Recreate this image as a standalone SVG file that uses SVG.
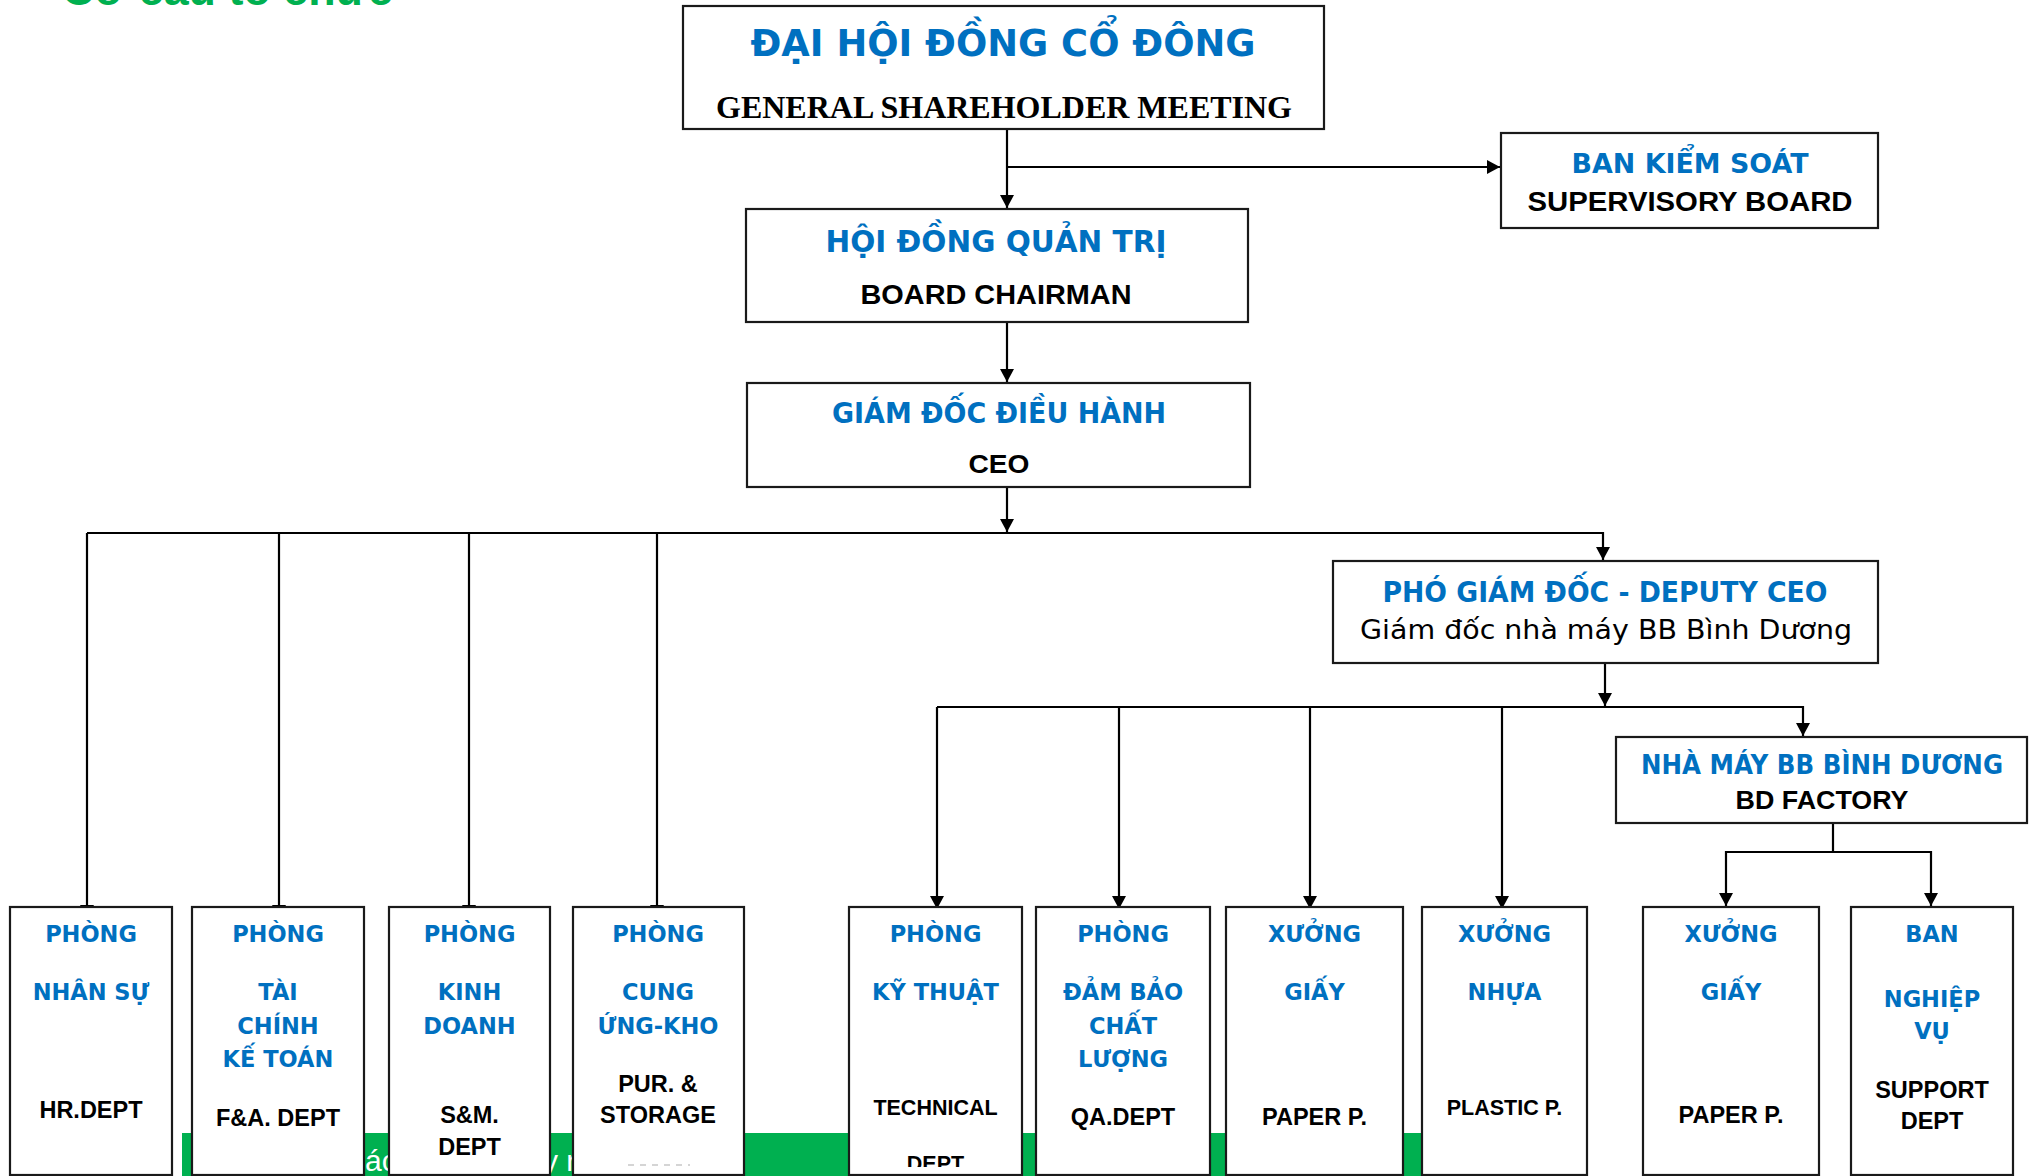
<svg xmlns="http://www.w3.org/2000/svg" width="2033" height="1176" viewBox="0 0 2033 1176">
<style>
.box{fill:#fff;stroke:#1a1a1a;stroke-width:2.2}
.bt{font-family:"DejaVu Sans",Verdana,sans-serif;font-weight:bold;fill:#0070C0;text-anchor:middle}
.kt{font-family:"Liberation Sans",Arial,sans-serif;font-weight:bold;fill:#000;text-anchor:middle}
.sb{font-family:"DejaVu Sans",Verdana,sans-serif;font-weight:bold;fill:#0070C0;text-anchor:middle;font-size:22.5px}
.sk{font-family:"Liberation Sans",Arial,sans-serif;font-weight:bold;fill:#000;text-anchor:middle;font-size:23.5px}
.con{fill:none;stroke:#000;stroke-width:2.2}
</style>
<defs>
<marker id="ah" markerUnits="userSpaceOnUse" markerWidth="14" markerHeight="14" refX="13" refY="7" orient="auto">
<path d="M0,0 L13,7 L0,14 z" fill="#000"/>
</marker>
<clipPath id="clipb"><rect x="0" y="0" width="2033" height="1167"/></clipPath>
</defs>
<rect width="2033" height="1176" fill="#fff"/>
<text x="62" y="5" font-family="Liberation Sans,Arial,sans-serif" font-weight="bold" font-size="45" fill="#00B050" textLength="331" lengthAdjust="spacingAndGlyphs">Cơ cấu tổ chức</text>
<rect x="182" y="1133" width="1240" height="43" fill="#00B050"/>
<text x="365" y="1171" font-family="Liberation Sans,Arial,sans-serif" font-size="30" fill="#fff">ác</text>
<text x="543" y="1171" font-family="Liberation Sans,Arial,sans-serif" font-size="30" fill="#fff">y r</text>

<g id="connectors">
<path class="con" d="M1007,129 V208" marker-end="url(#ah)"/>
<path class="con" d="M1007,167 H1500" marker-end="url(#ah)"/>
<path class="con" d="M1007,322 V382" marker-end="url(#ah)"/>
<path class="con" d="M1007,487 V532" marker-end="url(#ah)"/>
<path class="con" d="M87,533 H1603 V560" marker-end="url(#ah)"/>
<path class="con" d="M87,533 V918" marker-end="url(#ah)"/>
<path class="con" d="M279,533 V918" marker-end="url(#ah)"/>
<path class="con" d="M469,533 V918" marker-end="url(#ah)"/>
<path class="con" d="M657,533 V918" marker-end="url(#ah)"/>
<path class="con" d="M1605,663 V706" marker-end="url(#ah)"/>
<path class="con" d="M937,707 H1803 V736" marker-end="url(#ah)"/>
<path class="con" d="M937,707 V909" marker-end="url(#ah)"/>
<path class="con" d="M1119,707 V909" marker-end="url(#ah)"/>
<path class="con" d="M1310,707 V909" marker-end="url(#ah)"/>
<path class="con" d="M1502,707 V909" marker-end="url(#ah)"/>
<path class="con" d="M1833,823 V852 H1726 V906" marker-end="url(#ah)"/>
<path class="con" d="M1833,852 H1931 V906" marker-end="url(#ah)"/>
</g>

<g id="dhdcd">
<rect class="box" x="683" y="6" width="641" height="123"/>
<text class="bt" x="1003" y="56" font-size="37" textLength="505" lengthAdjust="spacingAndGlyphs">ĐẠI HỘI ĐỒNG CỔ ĐÔNG</text>
<text x="1004" y="118" font-family="Liberation Serif,'Times New Roman',serif" font-weight="bold" font-size="32" text-anchor="middle" textLength="576" lengthAdjust="spacingAndGlyphs">GENERAL SHAREHOLDER MEETING</text>
</g>
<g id="bks">
<rect class="box" x="1501" y="133" width="377" height="95"/>
<text class="bt" x="1690" y="173" font-size="27" textLength="237" lengthAdjust="spacingAndGlyphs">BAN KIỂM SOÁT</text>
<text class="kt" x="1690" y="211" font-size="27.5" textLength="325" lengthAdjust="spacingAndGlyphs">SUPERVISORY BOARD</text>
</g>
<g id="hdqt">
<rect class="box" x="746" y="209" width="502" height="113"/>
<text class="bt" x="996" y="252" font-size="29.5" textLength="341" lengthAdjust="spacingAndGlyphs">HỘI ĐỒNG QUẢN TRỊ</text>
<text class="kt" x="996" y="304" font-size="27" textLength="271" lengthAdjust="spacingAndGlyphs">BOARD CHAIRMAN</text>
</g>
<g id="ceo">
<rect class="box" x="747" y="383" width="503" height="104"/>
<text class="bt" x="999" y="423" font-size="27.5" textLength="334" lengthAdjust="spacingAndGlyphs">GIÁM ĐỐC ĐIỀU HÀNH</text>
<text class="kt" x="999" y="473" font-size="26" textLength="61" lengthAdjust="spacingAndGlyphs">CEO</text>
</g>
<g id="deputy">
<rect class="box" x="1333" y="561" width="545" height="102"/>
<text class="bt" x="1605" y="602" font-size="27.5" textLength="445" lengthAdjust="spacingAndGlyphs">PHÓ GIÁM ĐỐC - DEPUTY CEO</text>
<text x="1606" y="639" font-family="DejaVu Sans,Verdana,sans-serif" font-size="27" text-anchor="middle" textLength="492" lengthAdjust="spacingAndGlyphs">Giám đốc nhà máy BB Bình Dương</text>
</g>
<g id="factory">
<rect class="box" x="1616" y="737" width="411" height="86"/>
<text class="bt" x="1822" y="774" font-size="26.5" textLength="362" lengthAdjust="spacingAndGlyphs">NHÀ MÁY BB BÌNH DƯƠNG</text>
<text class="kt" x="1822" y="809" font-size="25" textLength="173" lengthAdjust="spacingAndGlyphs">BD FACTORY</text>
</g>

<g id="hr">
<rect class="box" x="10" y="907" width="162" height="268"/>
<text class="sb" x="91" y="942">PHÒNG</text>
<text class="sb" x="91" y="1000">NHÂN SỰ</text>
<text class="sk" x="91" y="1118">HR.DEPT</text>
</g>
<g id="fa">
<rect class="box" x="192" y="907" width="172" height="268"/>
<text class="sb" x="278" y="942">PHÒNG</text>
<text class="sb" x="278" y="1000">TÀI</text>
<text class="sb" x="278" y="1034">CHÍNH</text>
<text class="sb" x="278" y="1067">KẾ TOÁN</text>
<text class="sk" x="278" y="1126">F&amp;A. DEPT</text>
</g>
<g id="sm">
<rect class="box" x="389" y="907" width="161" height="268"/>
<text class="sb" x="469.5" y="942">PHÒNG</text>
<text class="sb" x="469.5" y="1000">KINH</text>
<text class="sb" x="469.5" y="1034">DOANH</text>
<text class="sk" x="469.5" y="1123">S&amp;M.</text>
<text class="sk" x="469.5" y="1155">DEPT</text>
</g>
<g id="pur">
<rect class="box" x="573" y="907" width="171" height="268"/>
<text class="sb" x="658" y="942">PHÒNG</text>
<text class="sb" x="658" y="1000">CUNG</text>
<text class="sb" x="658" y="1034">ỨNG-KHO</text>
<text class="sk" x="658" y="1092">PUR. &amp;</text>
<text class="sk" x="658" y="1123">STORAGE</text>
<path d="M628,1165 H690" stroke="#c8c8c8" stroke-width="1.5" stroke-dasharray="6,6"/>
</g>
<g id="tech">
<rect class="box" x="849" y="907" width="173" height="268"/>
<text class="sb" x="935.5" y="942">PHÒNG</text>
<text class="sb" x="935.5" y="1000">KỸ THUẬT</text>
<text class="sk" x="935.5" y="1115" style="font-size:21.5px">TECHNICAL</text>
<text class="sk" x="935.5" y="1171" clip-path="url(#clipb)" style="font-size:21.5px">DEPT</text>
</g>
<g id="qa">
<rect class="box" x="1036" y="907" width="174" height="268"/>
<text class="sb" x="1123" y="942">PHÒNG</text>
<text class="sb" x="1123" y="1000">ĐẢM BẢO</text>
<text class="sb" x="1123" y="1034">CHẤT</text>
<text class="sb" x="1123" y="1067">LƯỢNG</text>
<text class="sk" x="1123" y="1125">QA.DEPT</text>
</g>
<g id="paper1">
<rect class="box" x="1226" y="907" width="177" height="268"/>
<text class="sb" x="1314.5" y="942">XƯỞNG</text>
<text class="sb" x="1314.5" y="1000">GIẤY</text>
<text class="sk" x="1314.5" y="1125">PAPER P.</text>
</g>
<g id="plastic">
<rect class="box" x="1422" y="907" width="165" height="268"/>
<text class="sb" x="1504.5" y="942">XƯỞNG</text>
<text class="sb" x="1504.5" y="1000">NHỰA</text>
<text class="sk" x="1504.5" y="1115" style="font-size:21.5px">PLASTIC P.</text>
</g>
<g id="paper2">
<rect class="box" x="1643" y="907" width="176" height="268"/>
<text class="sb" x="1731" y="942">XƯỞNG</text>
<text class="sb" x="1731" y="1000">GIẤY</text>
<text class="sk" x="1731" y="1123">PAPER P.</text>
</g>
<g id="support">
<rect class="box" x="1851" y="907" width="162" height="268"/>
<text class="sb" x="1932" y="942">BAN</text>
<text class="sb" x="1932" y="1007">NGHIỆP</text>
<text class="sb" x="1932" y="1039">VỤ</text>
<text class="sk" x="1932" y="1098">SUPPORT</text>
<text class="sk" x="1932" y="1129">DEPT</text>
</g>
</svg>
